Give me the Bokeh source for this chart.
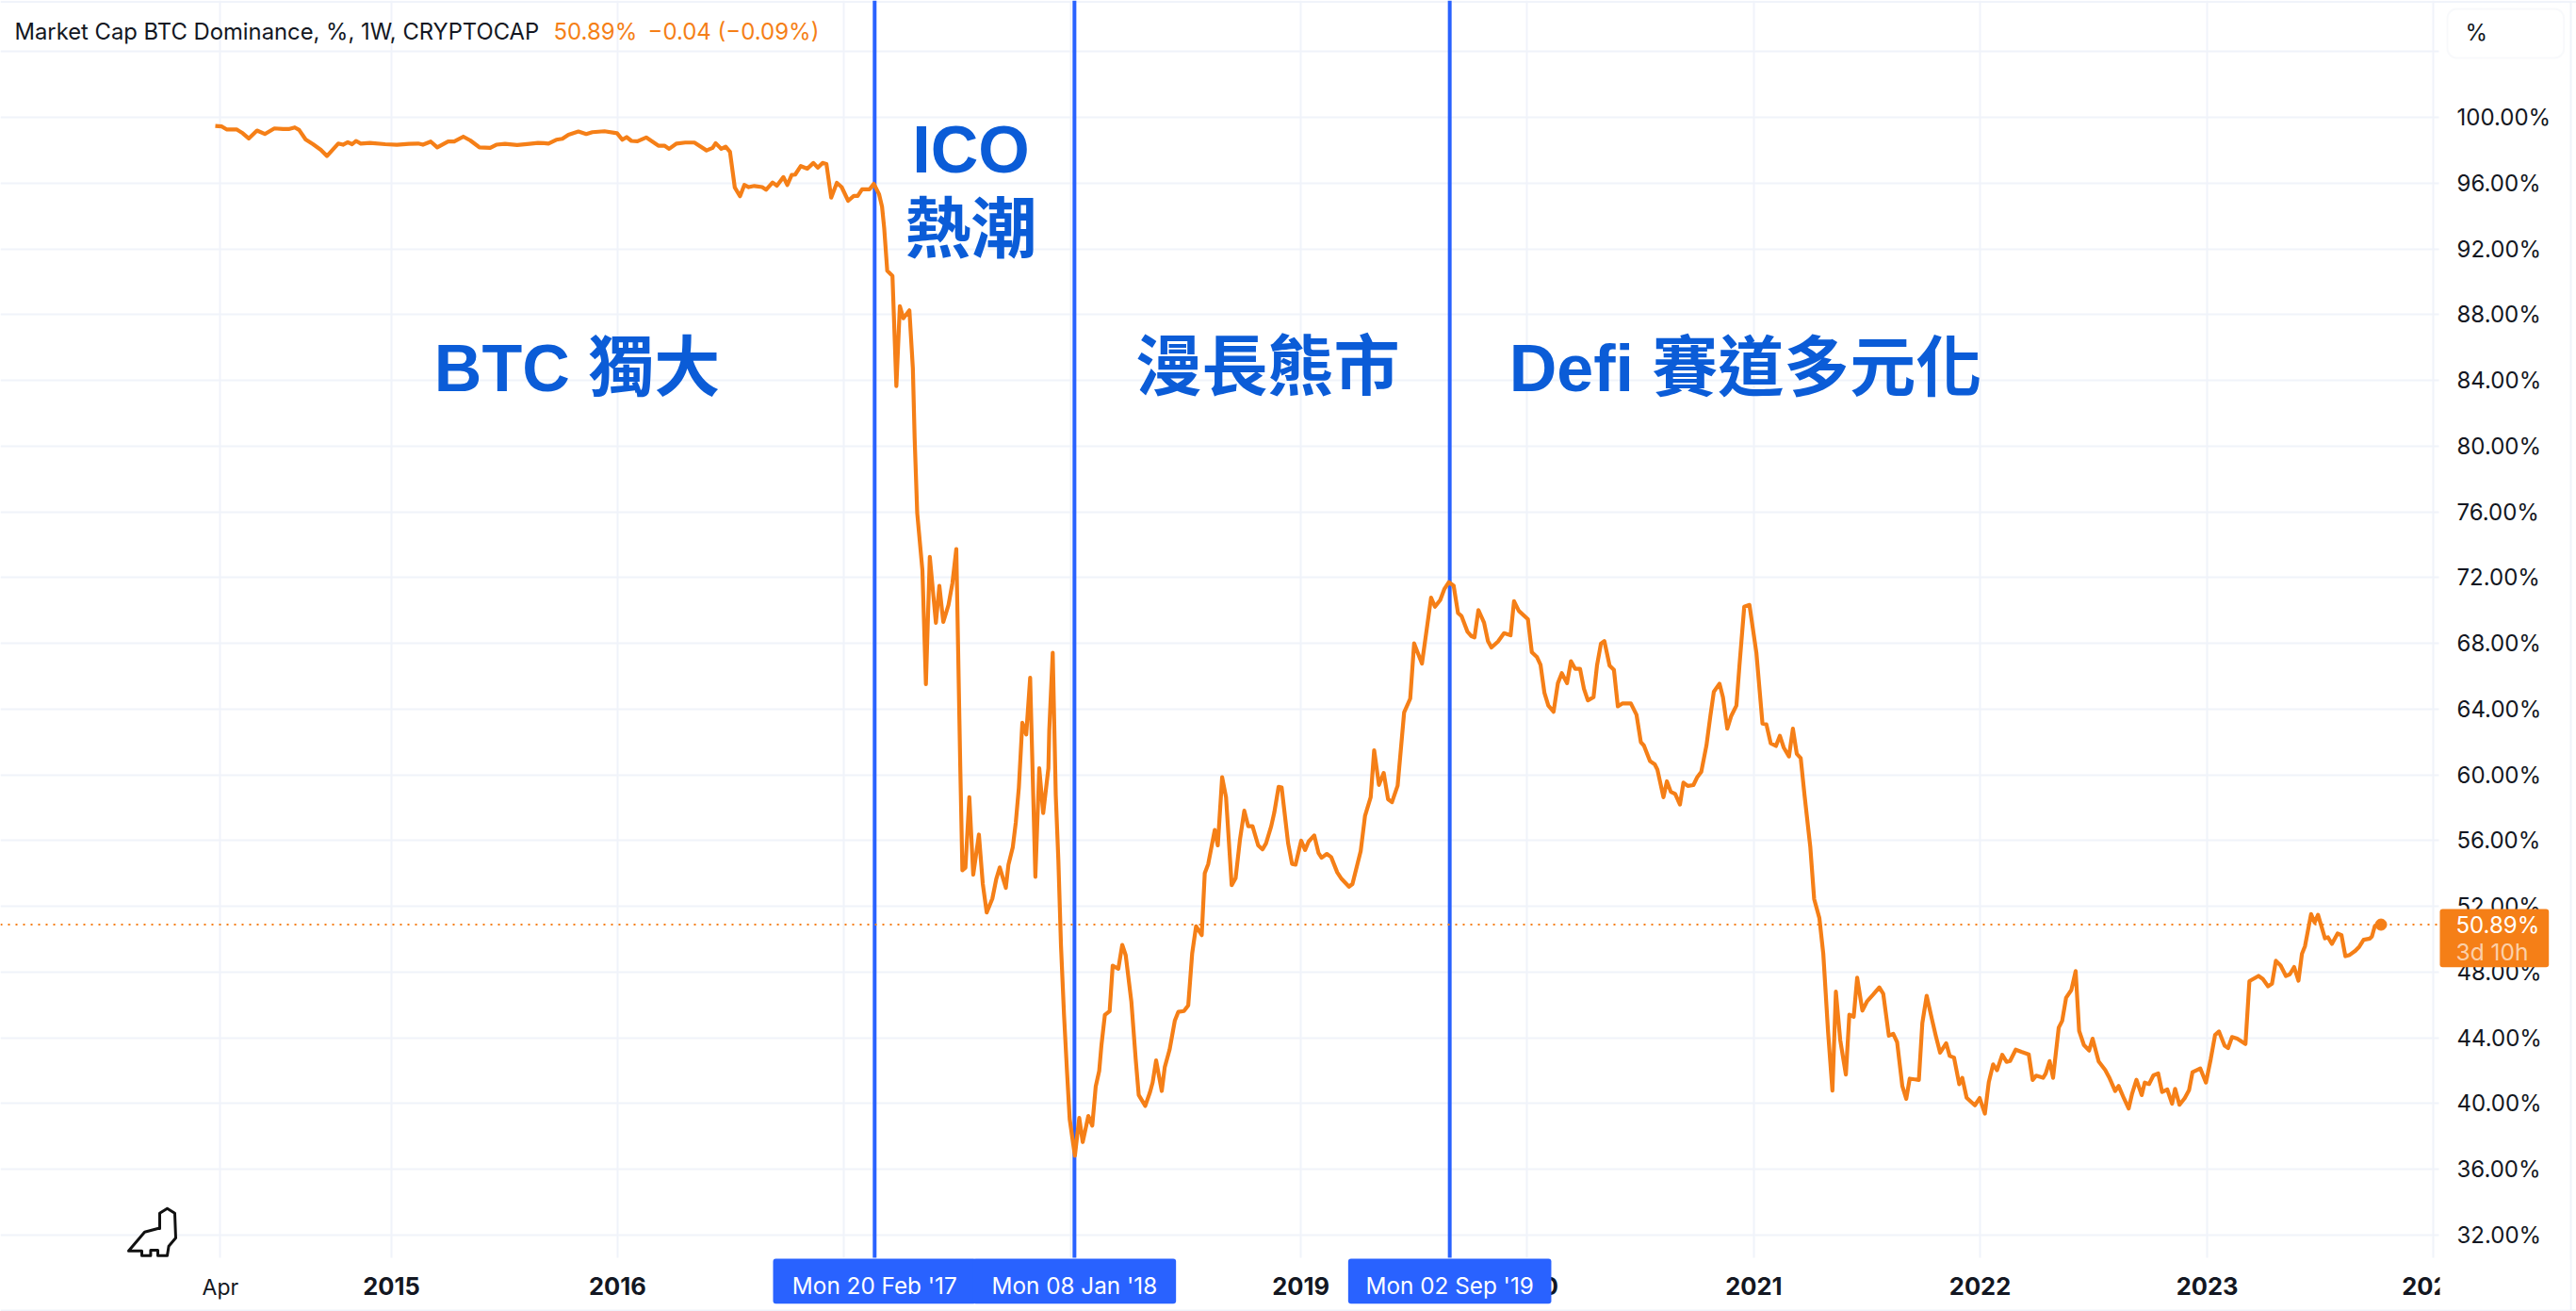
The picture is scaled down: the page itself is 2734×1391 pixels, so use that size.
from bokeh.plotting import figure
from bokeh.embed import file_html
from bokeh.resources import INLINE
from bokeh.models import Label, BoxAnnotation, FixedTicker

# ---------- data: week number since the first bar, BTC dominance in % ----------
weeks_2014_2017 = [0,1.5,2.6,4.9,6.3,7.7,9.6,11.4,13.6,15.6,16.9,18.3,19.3,20.8,22.5,24.3,25.7,28.3,29.4,30.5,31.5,32.4,33.5,35.6,39.1,41.8,44.6,46.7,47.8,49.6,51.1,53.6,55,57.1,58.7,60.8,63.3,64.7,66.7,69.5,72.3,74.3,75.7,76.7,78.5,79.9,81.3,83.6,85.4,86.8,89.6,92.5,93.7,94.7,95.8,97.2,99.2,102,103.4,104.5,106.2,108.2,110.3,113.1,114.5,115.2,116.5,117.5,118.5,119.6,120.8,121.8,122.8,124.1,125.9,126.8,128.3,129.3,130.8,131.7,132.7,133.5,134.8,136.3,137.7,138.7,139.8,140.7,141.8,143.1,144.2,145.7,147,147.9,148.9,150.6]
dom_2014_2017 = [99.48,99.45,99.27,99.27,99.04,98.72,99.2,98.99,99.33,99.29,99.29,99.39,99.24,98.66,98.37,98.03,97.65,98.41,98.34,98.49,98.37,98.57,98.41,98.45,98.37,98.34,98.39,98.41,98.34,98.53,98.18,98.53,98.53,98.83,98.6,98.18,98.15,98.34,98.39,98.32,98.39,98.45,98.43,98.41,98.64,98.7,98.95,99.14,98.99,99.1,99.16,99.04,98.64,98.8,98.57,98.55,98.78,98.28,98.28,98.09,98.41,98.47,98.47,97.99,98.15,98.43,98.09,98.22,97.9,95.74,95.2,95.89,95.76,95.83,95.76,95.6,96.04,95.85,96.37,95.89,96.5,96.52,97.04,96.88,97.23,96.94,97.23,97.17,95.12,96.02,95.76,94.93,95.22,95.22,95.62,95.62]

weeks_ico = [151.6,152.8,153.5,154,154.7,155.9,156.8,157.6,158.4,159.8,160.6,161,161.6,162.8,163.6,164.5,165.9,166.7,167.6,168.8,169.7,170.6,171.5,172,172.7,173.6,174.5,175.8,176.7,177.6,178.9,179.8,180.6,182,182.6,183.6,184.3,185,185.8,186.7,187.6,188.8,189.7,190.6,191.8,192,192.8,193.5,194.1,194.7,195.4,196.1,196.7]
dom_ico = [95.96,95.34,94.57,93.26,90.67,90.36,83.65,88.52,87.78,88.26,84.71,80.54,75.93,72.43,65.52,73.26,69.25,71.5,69.31,70.34,71.66,73.74,60.63,54.19,54.35,58.64,53.93,56.37,53.36,51.63,52.47,53.67,54.37,53.13,54.54,55.59,57.12,59.23,63.17,62.46,65.91,53.8,60.4,57.68,60.4,62.7,67.43,58.76,54.77,49.61,45.39,41.88,39.06]

weeks_bear = [197.9,198.9,199.7,201,201.9,202.7,203.5,204,204.8,205.9,206.6,207.9,208.8,209.6,210.9,211.9,212.6,214.1,215.2,215.8,216.6,217.9,218.6,219.7,220.9,221.7,223,224,224.9,225.8,227.1,227.8,228.6,230.1,230.8,231.8,232.7,234,234.9,235.9,236.9,237.8,238.8,240.1,241.1,241.9,243.1,243.8,244.8,245.5,247,247.9,248.7,250,250.9,251.7,253,254,254.7,255.9,256.9,258.3,259.3,261,261.8,263.7,264.7,266,266.8,267.9,269,270,270.9,272.2,273.7,275.1,276,277.8,278.7,279.9,280.8,282,283]
dom_bear = [36.83,39.13,37.66,39.25,38.66,41.05,41.99,43.52,45.39,45.63,48.39,48.21,49.66,49.03,46.21,42.7,40.52,39.86,40.7,41.29,42.63,40.77,42.23,43.28,45.04,45.58,45.63,45.98,49.14,50.79,50.25,54.02,54.58,56.65,55.71,59.86,58.64,53.29,53.72,56.06,57.82,56.88,56.88,55.71,55.47,55.83,56.88,57.7,59.27,59.23,55.83,54.58,54.54,56,55.43,55.94,56.32,55.24,54.96,55.19,55,54.07,53.67,53.2,53.36,55.36,57.51,58.64,61.5,59.39,60.12,58.52,58.34,59.34,63.8,64.64,68,66.77,68.48,70.78,70.23,70.63,71.33]

weeks_defi = [284,285.1,286.1,286.9,288.3,289.2,289.9,290.8,292.1,293,293.8,295.3,296.7,298.2,299,300.1,302.2,303.1,304.3,305.1,306,306.9,308.1,309.1,310,311.2,312.1,313.1,314.2,315.1,316,317.3,318.1,319,319.8,321,322,322.9,324,325.9,327.2,328.2,328.9,330.3,331.4,332,333.4,334.2,335.1,336.1,337.2,338,339,340.3,341.2,342.1,343.3,344.2,345,346.3,347.1,348.1,349,350.2,350.9,352,353.2,354.8,356.2,357.1,358.1,359.3,360.2,361.1,362.3,363.2,364.1,365,365.9,367.2,368.1,369.3,370.2,371.3,372.3,373.1,374.1,375.4,376.2,377.2,378,379.2,380.3,381.7,383.1,384,385.3,386.3,387.2,388.4,389.3,390.1,392.2,393,394,395.2,396.1,397.1,398.5,399.3,400.3,401.5,402.2,403.2,405.1,406.2,407.4,408.3,409.3,410.2,411.4,412.4,413.2,414.5,415.8,417.5,418.4,419.2,420.8,421.4,422.3,423.1]
dom_defi = [71.72,71.51,69.85,69.67,68.7,68.44,68.37,70.03,69.26,68.14,67.75,68.11,68.62,68.49,70.57,69.98,69.47,67.47,67.16,66.7,64.99,64.22,63.84,65.58,66.19,65.58,66.91,66.45,66.45,65.24,64.53,64.73,66.65,67.98,68.14,66.65,66.39,64.17,64.35,64.35,63.66,61.99,61.79,60.84,60.64,60.33,58.64,59.61,58.97,58.84,58.2,59.53,59.33,59.38,59.87,60.18,61.79,63.58,65.06,65.55,64.73,62.81,63.58,64.22,66.65,70.23,70.34,67.42,63.12,63.07,61.92,61.76,62.38,61.66,61.12,62.81,61.28,61.02,58.72,55.64,52.44,51.29,49.12,44.38,40.79,46.81,43.87,41.77,45.41,45.28,47.66,45.66,46.23,46.64,47.07,46.69,44.13,44.25,43.74,41.06,40.29,41.52,41.44,44.89,46.56,45.15,44.13,43.1,43.67,42.9,42.8,41.18,41.57,40.36,39.9,40.34,39.39,41.31,42.39,42.03,42.97,42.54,42.59,43.28,43.15,43,41.44,41.7,41.57,41.82,42.59,41.57]

weeks_recent = [424.4,425.2,426.1,427.3,428.3,429.1,430.2,431.4,432.2,433.6,435.1,436,437.4,438.2,439.4,440.5,441.3,442.3,443.5,444.2,445.2,446.2,447.3,448.2,449.4,450.5,451.2,452.2,453.4,454.4,455.2,457,458.3,459.4,460.4,461.3,462.6,463.4,464.3,465.5,467.4,468.3,470.4,471.4,472.6,473.5,474.4,475.5,476.7,477.6,478.6,479.6,480.4,481.1,482.5,483.3,484.1,485.7,486.4,487.3,488.6,489.5,490.4,491.4,492.7,493.6,494.6,496,496.5,497.2,498.6]
dom_recent = [44.62,45.04,46.44,46.91,48.06,44.43,43.57,43.23,43.95,42.56,42.05,41.61,40.77,41.07,40.33,39.7,40.61,41.45,40.52,41.28,41.19,41.72,41.84,40.71,40.86,40,40.9,39.93,40.33,40.81,41.91,42.14,41.28,42.71,44.18,44.39,43.52,43.38,44.05,43.95,43.63,47.45,47.77,47.58,47.14,47.29,48.69,48.4,47.77,47.87,48.31,47.48,49.11,49.58,51.53,51.02,51.49,50.06,50.12,49.72,50.35,50.25,48.97,49.05,49.3,49.55,49.97,50.04,50.16,50.82,50.89]

last_price = 50.89
time_ticks = [1.17, 40.56, 92.6, 144.7, 197.0, 249.9, 302.0, 354.2, 406.3, 458.6, 510.6]
time_labels = ["", "2015", "2016", "2017", "2018", "2019", "2020", "2021", "2022", "2023", "2024"]
price_ticks = [32, 36, 40, 44, 48, 52, 56, 60, 64, 68, 72, 76, 80, 84, 88, 92, 96, 100, 104]
marker_weeks = [151.8, 197.8, 284.2]
marker_dates = ["Mon 20 Feb '17", "Mon 08 Jan '18", "Mon 02 Sep '19"]

weeks = weeks_2014_2017 + weeks_ico + weeks_bear + weeks_defi + weeks_recent
dominance = dom_2014_2017 + dom_ico + dom_bear + dom_defi + dom_recent

# ---------- style ----------
ORANGE = "#F57F17"
BLUE = "#2962FF"
TEXT_BLUE = "#0B5CD7"
INK = "#131722"
GRID = "#F0F3FA"
UI = "Inter"
BIG = "'Liberation Sans', 'Noto Sans CJK TC'"

W, H = 2734, 1391
PANE_R, PANE_B = 2588, 1334

# conversions from pixels of the layout to the scales below
def X(px): return (px - 228) / 4.61
def Y(py): return 32 + (1310 - py) / 17.44

p = figure(width=W, height=H, frame_width=W, frame_height=H,
           output_backend="svg", toolbar_location=None,
           x_range=(X(0), X(W)), y_range=(Y(H), Y(0)),
           y_axis_location="right", min_border_left=0, min_border_top=0,
           min_border_right=0, min_border_bottom=0,
           background_fill_color="white", border_fill_color="white", outline_line_color=None)

p.xaxis.fixed_location = Y(PANE_B)
p.xaxis.ticker = FixedTicker(ticks=time_ticks)
p.xaxis.major_label_overrides = {t: l for t, l in zip(time_ticks, time_labels)}
p.xaxis.major_label_text_font = UI
p.xaxis.major_label_text_font_size = "25.5px"
p.xaxis.major_label_text_font_style = "bold"
p.xaxis.major_label_text_color = INK
p.xaxis.major_label_standoff = 14
p.xaxis.axis_line_color = None
p.xaxis.major_tick_line_color = None
p.xaxis.minor_tick_line_color = None

p.yaxis.fixed_location = X(PANE_R)
p.yaxis.ticker = FixedTicker(ticks=price_ticks)
p.yaxis.major_label_overrides = {t: ("" if t == 104 else f"{t:.2f}%") for t in price_ticks}
p.yaxis.major_label_text_font = UI
p.yaxis.major_label_text_font_size = "24px"
p.yaxis.major_label_text_color = INK
p.yaxis.major_label_standoff = 13
p.yaxis.axis_line_color = None
p.yaxis.major_tick_line_color = None
p.yaxis.minor_tick_line_color = None

p.xgrid.grid_line_color = GRID
p.xgrid.grid_line_width = 2
p.xgrid.cross_bounds = (Y(PANE_B), Y(0))
p.ygrid.grid_line_color = GRID
p.ygrid.grid_line_width = 2
p.ygrid.cross_bounds = (X(0), X(PANE_R))

# chart frame lines
p.segment([X(0), X(0), X(2728)], [Y(1.5), Y(1390), Y(0)], [X(W), X(W), X(2728)], [Y(1.5), Y(1390), Y(H)],
          line_color=GRID, line_width=2)

for w in marker_weeks:
    p.segment([w], [Y(PANE_B)], [w], [Y(0)], line_color=BLUE, line_width=4)
p.segment([X(0)], [last_price], [X(PANE_R)], [last_price], line_color=ORANGE, line_width=2,
          line_dash="2 6", line_alpha=1)

p.line(weeks, dominance, line_color=ORANGE, line_width=4.2, line_join="round")
p.scatter([weeks[-1]], [dominance[-1]], size=12, marker="circle", fill_color=ORANGE, line_color=ORANGE)

# dinosaur logo
logo_x = [136, 153, 167, 169, 169, 177, 185, 186, 178.6, 177, 167, 167, 159.4, 159.4, 150, 150, 136]
logo_y = [1326.7, 1306.7, 1303, 1303, 1286.7, 1281.7, 1286.7, 1313, 1321.7, 1331.7, 1331.7, 1326, 1326, 1331.7, 1331.7, 1326.7, 1326.7]
p.patch([X(v) for v in logo_x], [Y(v) for v in logo_y], fill_color="white", line_color="#111111",
        line_width=3, line_join="round")

def label(text, px, py, size, color=INK, font=UI, style="normal", align="left", alpha=1.0):
    p.add_layout(Label(x=X(px), y=Y(py), text=text, text_font=font, text_font_size=f"{size}px",
                       text_font_style=style, text_color=color, text_align=align,
                       text_baseline="middle", text_alpha=alpha))

# legend line
label("Market Cap BTC Dominance, %, 1W, CRYPTOCAP", 15, 33, 23.8)
label("50.89%", 587, 33, 24, color=ORANGE)
label("\u22120.04 (\u22120.09%)", 687, 33, 24, color=ORANGE)

# big annotations
label("BTC 獨大", 612, 390, 70, color=TEXT_BLUE, font=BIG, style="bold", align="center")
label("ICO", 1030, 158, 70, color=TEXT_BLUE, font=BIG, style="bold", align="center")
label("熱潮", 1030, 243, 70, color=TEXT_BLUE, font=BIG, style="bold", align="center")
label("漫長熊市", 1345, 389, 70, color=TEXT_BLUE, font=BIG, style="bold", align="center")
label("Defi 賽道多元化", 1852, 390, 70, color=TEXT_BLUE, font=BIG, style="bold", align="center")

# "Apr" is the only light time label
label("Apr", 233.4, 1365, 23, align="center")

# scale button
p.add_layout(BoxAnnotation(left=X(2597), right=X(2720.7), top=Y(9), bottom=Y(61), fill_color="white",
                           fill_alpha=1, line_color="#E8EBF2", line_width=2, border_radius=10))
label("%", 2616, 34, 24)

# cover for the time labels beyond the price scale
p.add_layout(BoxAnnotation(left=X(2589), right=X(2727), top=Y(1336), bottom=Y(1389), fill_color="white",
                           fill_alpha=1, line_color=None))

# last price tag
p.add_layout(BoxAnnotation(left=X(2589), right=X(2704.7), top=Y(964), bottom=Y(1025.7), fill_color=ORANGE,
                           fill_alpha=1, line_color=None, border_radius=3))
label("50.89%", 2606, 980.7, 24, color="white")
label("3d 10h", 2606, 1009, 24.5, color="white", alpha=0.65)

# date tags on the time scale
for w, d in zip(marker_weeks, marker_dates):
    cx = 228 + 4.61 * w
    p.add_layout(BoxAnnotation(left=X(cx - 107.8), right=X(cx + 107.8), top=Y(1335), bottom=Y(1382.7),
                               fill_color=BLUE, fill_alpha=1, line_color=None, border_radius=3))
for w, d in zip(marker_weeks, marker_dates):
    cx = 228 + 4.61 * w
    label(d, cx, 1363, 24.3, color="white", align="center")

open("out.html", "w").write(file_html(p, INLINE))
